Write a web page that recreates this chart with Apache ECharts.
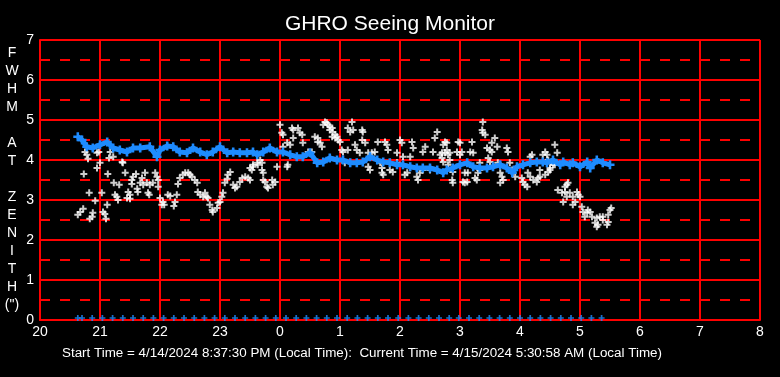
<!DOCTYPE html>
<html>
<head>
<meta charset="utf-8">
<script src="https://cdn.jsdelivr.net/npm/echarts@6/dist/echarts.min.js"></script>
<style>
  html, body { margin: 0; padding: 0; background: #000; }
  #seeing { width: 780px; height: 377px; }
</style>
</head>
<body>
<div id="seeing"></div>
<script>
// hours after local midnight of start day (24 = 0h next day)
var xTicks = [20, 21, 22, 23, 24, 25, 26, 27, 28, 29, 30, 31, 32];
var yTicks = [0, 1, 2, 3, 4, 5, 6, 7];

// running average (blue)
var avgHour = [20.63,20.70,20.78,20.88,21.00,21.12,21.22,21.33,21.45,21.55,21.67,21.83,21.95,22.00,22.12,22.22,22.33,22.45,22.55,22.67,22.78,22.88,23.00,23.12,23.22,23.33,23.45,23.55,23.62,23.72,23.83,23.95,24.05,24.17,24.28,24.38,24.50,24.62,24.72,24.83,24.95,25.05,25.17,25.28,25.38,25.50,25.62,25.72,25.83,25.95,26.05,26.17,26.28,26.38,26.50,26.62,26.72,26.78,26.88,27.00,27.12,27.22,27.33,27.45,27.55,27.67,27.78,27.87,27.95,28.05,28.17,28.28,28.38,28.45,28.55,28.67,28.72,28.83,28.88,29.00,29.12,29.17,29.28,29.38,29.50];
var avgFwhm = [4.58,4.50,4.33,4.30,4.38,4.45,4.30,4.25,4.20,4.30,4.30,4.33,4.08,4.25,4.35,4.33,4.20,4.18,4.30,4.20,4.13,4.20,4.33,4.18,4.20,4.18,4.18,4.20,4.13,4.20,4.30,4.20,4.20,4.13,4.08,4.08,4.18,3.93,3.95,4.05,4.00,4.00,3.93,3.93,3.95,4.08,4.00,3.95,3.93,3.88,3.88,3.83,3.80,3.80,3.80,3.75,3.68,3.75,3.80,3.88,3.93,3.83,3.80,3.80,3.83,3.88,3.80,3.68,3.83,3.88,3.93,3.95,3.95,3.93,4.00,3.88,3.95,3.88,3.93,3.83,3.95,3.80,4.00,3.93,3.88];

// single measurements (white)
var rawHour = [
  20.75,20.78,20.80,20.95,20.98,21.17,21.22,21.15,21.00,20.95,20.73,21.13,21.37,21.38,21.42,21.60,21.55,21.53,21.75,21.70,
  21.67,21.72,21.92,21.95,21.97,21.88,21.83,21.78,21.23,21.32,21.53,21.62,21.63,21.47,21.50,21.50,21.45,21.80,21.82,21.97,
  20.82,21.03,21.25,21.28,21.30,20.92,21.12,20.67,20.72,20.63,20.88,20.87,20.83,21.05,21.08,21.10,22.00,22.05,22.03,22.07,
  22.13,22.17,22.25,22.23,22.28,22.30,22.33,22.38,22.42,22.47,22.50,22.53,22.58,22.62,22.63,22.67,22.72,22.78,22.75,22.80,
  22.83,22.87,22.88,22.95,22.97,23.00,23.03,23.05,23.08,23.12,23.13,23.17,23.22,23.25,23.28,23.33,23.37,23.42,23.47,23.50,
  23.53,23.55,23.62,23.67,23.50,23.55,23.70,23.63,23.70,23.72,23.75,23.72,23.80,23.78,23.87,23.92,23.88,23.95,24.12,24.13,
  24.00,24.03,24.05,24.20,24.22,24.30,24.33,24.37,24.22,24.12,24.05,24.17,24.38,24.47,24.50,24.53,24.58,24.63,24.67,24.70,
  24.63,24.75,24.78,24.80,24.83,24.87,24.88,24.92,24.95,24.97,25.00,24.72,24.83,24.87,24.92,25.13,25.20,25.17,25.22,25.37,
  25.38,25.03,25.05,25.08,25.13,25.25,25.28,25.33,25.37,25.42,25.47,25.53,25.58,25.47,25.50,25.63,25.75,25.78,25.80,25.67,
  25.70,25.70,25.72,25.83,25.88,25.95,25.95,26.00,26.03,26.05,26.08,26.12,26.17,26.20,26.22,26.28,26.30,26.33,26.38,26.38,
  26.42,26.50,26.55,26.58,26.62,26.67,26.70,26.72,26.75,26.78,26.80,26.83,26.75,26.72,26.78,26.80,26.70,26.83,26.97,27.00,
  26.95,27.00,27.03,27.20,27.17,27.22,27.38,27.37,27.38,27.42,27.53,27.58,27.62,27.47,27.50,27.33,27.30,27.33,27.08,27.13,
  27.05,27.08,27.12,26.88,26.87,26.88,27.25,27.28,27.45,27.50,27.53,27.63,27.67,27.70,27.72,27.67,27.78,27.80,27.83,27.87,
  27.88,27.92,28.03,28.05,28.08,28.12,28.13,28.17,28.20,28.17,28.22,28.28,28.30,28.33,28.33,28.42,28.38,28.45,28.47,28.53,
  28.50,28.55,28.58,28.62,28.58,28.42,28.47,28.50,28.78,28.80,28.75,28.63,28.70,28.75,28.78,28.72,28.83,28.88,28.95,28.97,
  29.00,28.92,28.88,29.03,29.05,29.12,29.13,29.17,29.20,29.08,29.28,29.33,29.38,29.50,29.47,29.25,29.28,29.30,29.38,29.45,
  29.47,29.52
];
var rawFwhm = [
  4.20,4.13,4.03,4.18,4.20,4.20,4.08,4.05,3.93,3.80,3.65,3.65,3.95,3.93,3.68,3.65,3.58,3.50,3.68,3.55,
  3.43,3.38,3.68,3.58,3.50,3.43,3.38,3.43,3.43,3.38,3.40,3.28,3.20,3.20,3.13,3.03,3.05,3.18,3.13,3.33,
  3.18,3.18,3.13,3.08,3.00,2.98,2.88,2.70,2.78,2.63,2.68,2.58,2.53,2.70,2.65,2.53,3.05,2.95,2.88,2.88,
  3.13,3.10,2.95,2.85,3.13,3.40,3.55,3.63,3.68,3.68,3.63,3.58,3.50,3.43,3.20,3.13,3.08,3.08,3.18,3.05,
  2.88,2.75,2.70,2.80,2.93,2.95,3.08,3.18,3.43,3.53,3.63,3.70,3.38,3.30,3.33,3.45,3.55,3.58,3.55,3.50,
  3.75,3.83,3.93,4.00,3.80,3.88,3.93,3.88,3.75,3.68,3.45,3.50,3.30,3.33,3.50,3.45,3.38,3.83,3.83,3.88,
  4.88,4.68,4.63,4.80,4.75,4.80,4.68,4.63,4.55,4.43,4.33,4.38,4.43,4.20,4.18,4.20,4.58,4.55,4.43,4.33,
  4.45,4.95,4.93,4.88,4.83,4.80,4.70,4.63,4.58,4.50,4.45,4.88,4.75,4.58,4.55,4.80,4.95,4.70,4.75,4.75,
  4.70,4.25,4.20,3.93,4.25,4.38,4.25,4.18,4.50,4.43,4.18,4.18,4.20,3.83,3.75,4.45,4.45,4.38,4.25,3.93,
  3.80,3.68,3.63,3.75,3.70,3.93,4.18,4.50,4.43,4.08,3.63,3.68,4.08,4.45,4.30,3.58,3.50,3.68,3.75,4.20,
  4.33,3.75,4.20,4.55,4.70,4.13,4.05,3.95,4.18,4.43,3.88,4.18,4.45,4.38,4.25,4.13,4.18,4.00,4.45,4.43,
  4.20,4.13,4.20,4.45,4.20,4.18,4.95,4.75,4.68,4.63,4.43,4.55,4.33,4.05,3.95,3.93,3.68,3.75,3.68,3.68,
  3.45,3.43,3.45,3.70,3.50,3.43,3.55,3.50,4.30,4.25,4.20,3.93,3.68,3.58,3.50,3.43,4.30,4.20,3.93,3.75,
  3.68,3.58,3.55,3.45,3.38,3.33,3.68,3.58,4.13,4.08,3.50,3.45,3.55,3.58,3.75,4.20,4.13,4.13,4.00,3.95,
  3.80,3.88,3.88,4.18,4.38,3.63,3.70,3.75,3.38,3.43,3.33,3.25,3.18,3.20,3.08,2.95,3.18,3.08,3.20,3.13,
  3.08,2.95,2.88,2.83,2.70,2.68,2.75,2.70,2.58,2.58,2.55,2.58,2.58,2.75,2.63,2.43,2.33,2.38,2.50,2.38,
  2.45,2.80
];

// status marks along the bottom (blue)
var flagHour = [20.63,20.70,20.87,21.04,21.21,21.38,21.55,21.72,21.89,22.06,22.23,22.40,22.57,22.74,22.91,23.08,23.25,23.42,23.59,23.76,23.93,24.10,24.27,24.44,24.61,24.78,24.95,25.12,25.29,25.46,25.63,25.80,25.97,26.14,26.31,26.48,26.65,26.82,26.98,27.15,27.32,27.49,27.66,27.83,28.00,28.17,28.34,28.51,28.68,28.85,29.02,29.19,29.36];
var flagValue = 0.05;

var plus = 'path://M2.5,0H4.5V2.5H7V4.5H4.5V7H2.5V4.5H0V2.5H2.5Z';
var font = 'Liberation Sans, Arial, sans-serif';
var red = '#ff0000';
var blue = '#1e8cff';

function pairs(xs, ys) {
  var out = [];
  for (var i = 0; i < xs.length; i++) {
    out.push([xs[i], Array.isArray(ys) ? ys[i] : ys]);
  }
  return out;
}

var chartDom = document.getElementById('seeing');
var myChart = echarts.init(chartDom);
var option;
option = {
  backgroundColor: '#000',
  animation: false,
  title: {
    text: 'GHRO Seeing Monitor',
    left: 'center',
    top: 9,
    textStyle: { color: '#fff', fontSize: 21, fontWeight: 'normal', fontFamily: font }
  },
  grid: { left: 40, right: 20, top: 40, bottom: 57 },
  xAxis: {
    type: 'value',
    min: xTicks[0],
    max: xTicks[xTicks.length - 1],
    interval: 1,
    axisLine: { show: true, lineStyle: { color: red, width: 2 } },
    axisTick: { show: false },
    axisLabel: {
      color: '#fff', fontSize: 14, fontFamily: font, margin: 5,
      formatter: function (v) { return String(v % 24); }
    },
    splitLine: { show: true, lineStyle: { color: red, width: 2 } }
  },
  yAxis: [
    {
      type: 'value',
      min: yTicks[0],
      max: yTicks[yTicks.length - 1],
      interval: 1,
      axisLine: { show: true, lineStyle: { color: red, width: 2 } },
      axisTick: { show: false },
      axisLabel: { color: '#fff', fontSize: 14, fontFamily: font, margin: 6 },
      splitLine: { show: true, lineStyle: { color: red, width: 2 } }
    },
    {
      type: 'value',
      min: 0,
      max: 7,
      interval: 0.5,
      axisLine: { show: false },
      axisTick: { show: false },
      axisLabel: { show: false },
      splitLine: { show: true, lineStyle: { color: red, width: 2, type: [10, 10] } }
    }
  ],
  graphic: [
    {
      type: 'text',
      x: 12,
      y: 44,
      style: {
        text: 'F\nW\nH\nM\n\nA\nT\n\nZ\nE\nN\nI\nT\nH\n(")',
        fill: '#fff',
        font: '14px ' + font,
        lineHeight: 18,
        align: 'center',
        verticalAlign: 'top'
      }
    },
    {
      type: 'text',
      x: 62,
      y: 348,
      scaleX: 1.117,
      style: {
        text: 'Start Time = 4/14/2024 8:37:30 PM (Local Time):  Current Time = 4/15/2024 5:30:58 AM (Local Time)',
        fill: '#fff',
        font: '12px ' + font,
        verticalAlign: 'top'
      }
    }
  ],
  series: [
    {
      name: 'FWHM',
      type: 'scatter',
      symbol: plus,
      symbolSize: 7,
      itemStyle: { color: '#fff' },
      data: pairs(rawHour, rawFwhm),
      z: 2
    },
    {
      name: 'Average',
      type: 'line',
      symbol: plus,
      symbolSize: 9,
      showSymbol: true,
      itemStyle: { color: blue },
      lineStyle: { color: blue, width: 5 },
      data: pairs(avgHour, avgFwhm),
      z: 3
    },
    {
      name: 'Status',
      type: 'scatter',
      symbol: plus,
      symbolSize: 6,
      itemStyle: { color: blue },
      data: pairs(flagHour, flagValue),
      z: 3
    }
  ]
};
option && myChart.setOption(option);
</script>
</body>
</html>
